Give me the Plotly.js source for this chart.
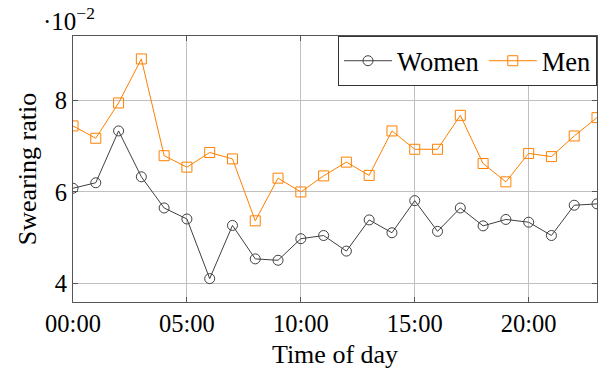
<!DOCTYPE html>
<html>
<head>
<meta charset="utf-8">
<script src="https://cdn.plot.ly/plotly-3.0.1.min.js"></script>
<style>html,body{margin:0;padding:0;background:#fff}#chart{width:600px;height:375px}</style>
</head>
<body>
<div id="chart"></div>
<script>
const hours = [0,1,2,3,4,5,6,7,8,9,10,11,12,13,14,15,16,17,18,19,20,21,22,23];
const women = [6.08,6.20,7.33,6.33,5.65,5.41,4.11,5.27,4.54,4.51,4.98,5.05,4.71,5.39,5.11,5.81,5.14,5.65,5.26,5.40,5.34,5.05,5.71,5.74];
const men = [7.44,7.17,7.94,8.90,6.79,6.54,6.86,6.72,5.37,6.30,6.00,6.35,6.65,6.36,7.33,6.93,6.93,7.67,6.62,6.22,6.84,6.77,7.22,7.62];
const xTickVals = [0,5,10,15,20];
const xTickText = ['00:00','05:00','10:00','15:00','20:00'];
const yTickVals = [4,6,8];

const font = "'Liberation Serif', 'Times New Roman', serif";
const traces = [
  {x: hours, y: women, name: 'Women', mode: 'lines+markers', type: 'scatter',
   line: {color: '#404040', width: 1},
   marker: {symbol: 'circle-open', size: 10, color: '#404040', line: {width: 1}}},
  {x: hours, y: men, name: 'Men', mode: 'lines+markers', type: 'scatter',
   line: {color: '#ff8000', width: 1},
   marker: {symbol: 'square-open', size: 10, color: '#ff8000', line: {width: 1}}}
];
const layout = {
  width: 600, height: 375,
  margin: {l: 73, r: 3, t: 36, b: 73},
  paper_bgcolor: '#fff', plot_bgcolor: '#fff',
  font: {family: font, size: 24, color: '#000'},
  showlegend: true,
  legend: {x: 1, y: 1, xanchor: 'right', yanchor: 'top', orientation: 'h',
    bordercolor: '#333', borderwidth: 1, bgcolor: '#fff', itemwidth: 48,
    font: {family: font, size: 26.5, color: '#000'}, tracegroupgap: 0},
  xaxis: {range: [0, 23], tickvals: xTickVals, ticktext: xTickText,
    showgrid: true, gridcolor: '#c0c0c0', gridwidth: 1,
    showline: true, linecolor: '#555', linewidth: 1, mirror: 'ticks',
    ticks: 'inside', ticklen: 5, tickcolor: '#555', zeroline: false,
    tickfont: {family: font, size: 24.5},
    title: {text: 'Time of day', font: {family: font, size: 26}, standoff: 8}},
  yaxis: {range: [3.6, 9.4], tickvals: yTickVals,
    showgrid: true, gridcolor: '#c0c0c0', gridwidth: 1,
    showline: true, linecolor: '#555', linewidth: 1, mirror: 'ticks',
    ticks: 'inside', ticklen: 5, tickcolor: '#555', zeroline: false,
    tickfont: {family: font, size: 24.5},
    title: {text: 'Swearing ratio', font: {family: font, size: 26}, standoff: 10}},
  annotations: [{xref: 'paper', yref: 'paper', x: 0, y: 1, xanchor: 'left', yanchor: 'bottom',
    xshift: -32, yshift: -1, showarrow: false, text: '·10<sup>−2</sup>',
    font: {family: font, size: 25, color: '#000'}}]
};
Plotly.newPlot('chart', traces, layout, {displayModeBar: false, staticPlot: true});
</script>
</body>
</html>
